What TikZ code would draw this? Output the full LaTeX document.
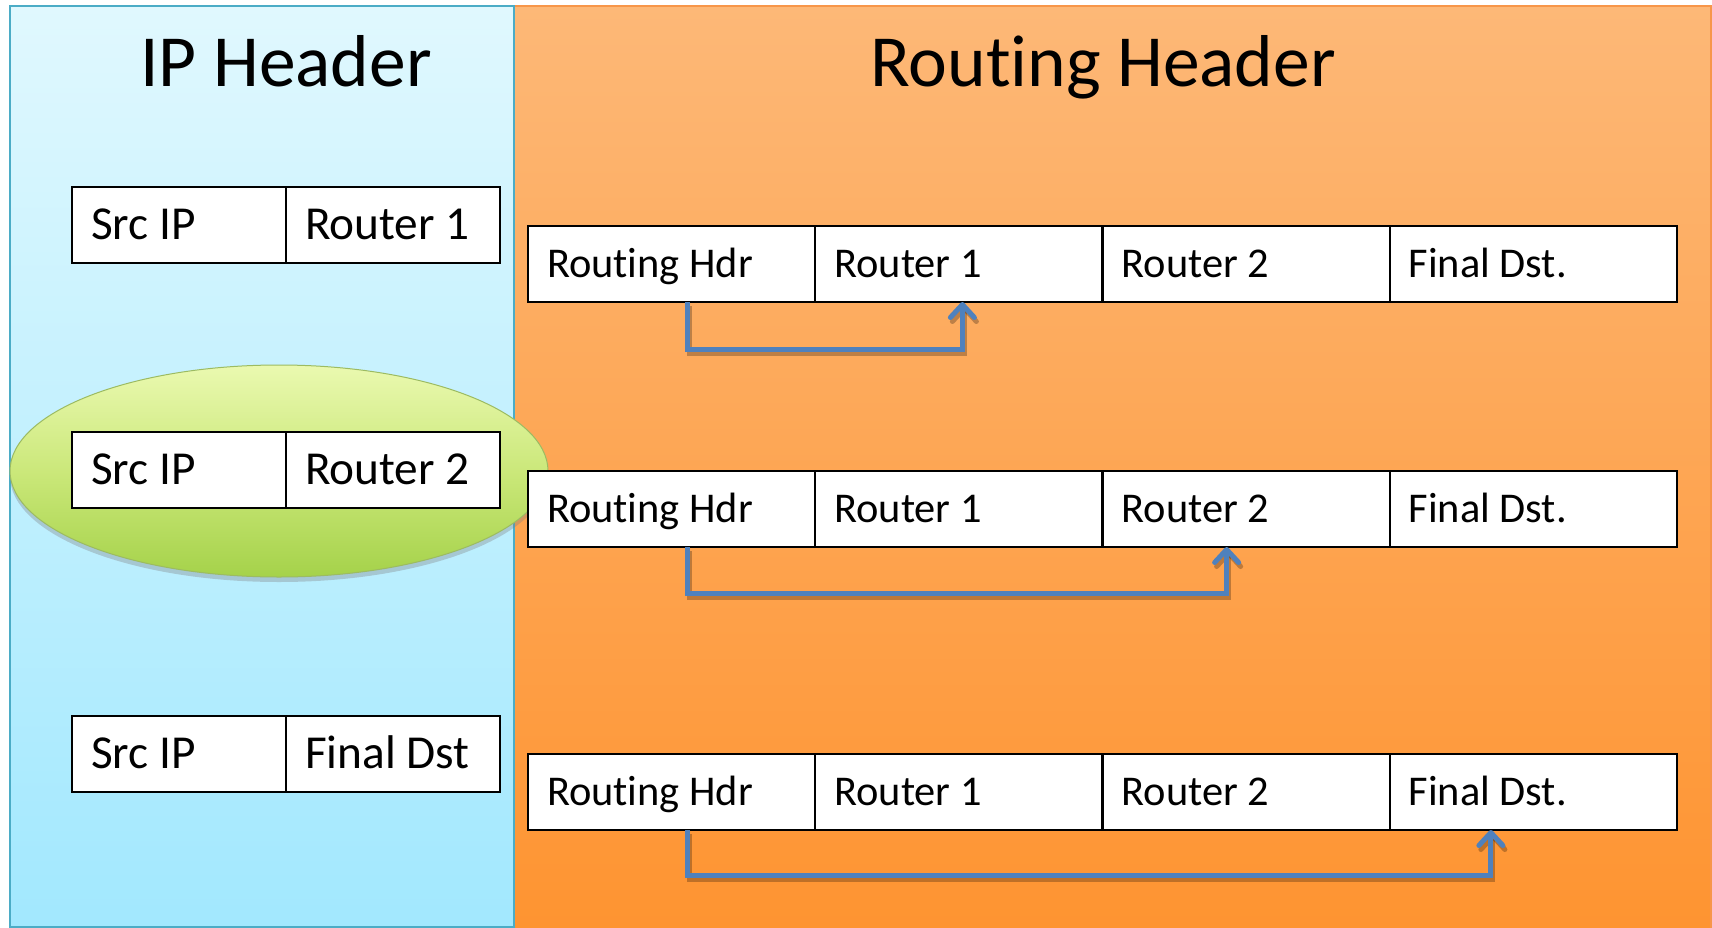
\documentclass[tikz,border=0pt]{standalone}
\usepackage{fontspec}
\setmainfont[Ligatures=NoCommon]{Carlito}
\usetikzlibrary{arrows.meta,shadows}

\definecolor{ipTop}{HTML}{E0F8FE}
\definecolor{ipBot}{HTML}{A2E8FE}
\definecolor{ipEdge}{HTML}{4BACC6}
\definecolor{rhTop}{HTML}{FDB877}
\definecolor{rhBot}{HTML}{FE9431}
\definecolor{rhEdge}{HTML}{F7964A}
\definecolor{ovTop}{HTML}{EAF9B0}
\definecolor{ovMid}{HTML}{CBE87A}
\definecolor{ovBot}{HTML}{A5D24A}
\definecolor{ovEdge}{HTML}{9CBB62}
\definecolor{hop}{HTML}{4F81BD}

\tikzset{
  cell/.style={draw=black, line width=2.4pt, fill=white, minimum height=76pt,
    inner xsep=19pt, inner ysep=0pt, outer sep=0pt, text depth=0pt,
    anchor=north west},
  ipcell/.style={cell, font=\fontsize{47.3}{56}\selectfont, text height=29.8pt,
    execute at begin node={\hbox to 176pt\bgroup}, execute at end node={\hfil\egroup}},
  rhcell/.style={cell, font=\fontsize{42.4}{50}\selectfont, text height=26.7pt,
    execute at begin node={\hbox to 249.25pt\bgroup}, execute at end node={\hfil\egroup}},
  title/.style={anchor=base, font=\fontsize{73.5}{88}\selectfont},
  link/.style={draw=hop, line width=5pt, line join=miter,
    -{Straight Barb[length=13pt, width=24pt, line cap=round, line join=round]}},
  linkshade/.style={draw=black, opacity=0.25, line width=5pt,
    transform canvas={shift={(2pt,-4pt)}},
    -{Straight Barb[length=13pt, width=24pt, line cap=round, line join=round]}},
}

\begin{document}
\begin{tikzpicture}[x=1pt, y=-1pt]
\useasboundingbox (0,0) rectangle (1712,928);
\fill[white] (0,0) rectangle (1712,928);

% panels
\shade[top color=rhTop, bottom color=rhBot] (514,6) rectangle (1711,928);
\draw[rhEdge, line width=1.5pt] (514,6) -- (1711,6) -- (1711,928);
\shade[top color=ipTop, bottom color=ipBot] (10,6) rectangle (514,927);
\draw[ipEdge, line width=2.5pt] (10,6) rectangle (514,927);

\node[title] (iphdr) at (286,87) {IP Header};
\node[title] (rthdr) at (1103,87) {Routing Header};

% highlighted current destination
\path[draw=ovEdge, line width=1pt, top color=ovTop, bottom color=ovBot, middle color=ovMid,
      drop shadow={opacity=0.35, shadow xshift=0pt, shadow yshift=-5pt}]
  (279,471) ellipse [x radius=269, y radius=106];

% IP header cells
\node[ipcell] (ip1a) at (72,187) {Src IP};
\node[ipcell] (ip1b) at (ip1a.north east) {Router 1};
\node[ipcell] (ip2a) at (72,432) {Src IP};
\node[ipcell] (ip2b) at (ip2a.north east) {Router 2};
\node[ipcell] (ip3a) at (72,716) {Src IP};
\node[ipcell] (ip3b) at (ip3a.north east) {Final Dst};

% routing header cells
\node[rhcell] (r1a) at (528,226) {Routing Hdr};
\node[rhcell] (r1b) at (r1a.north east) {Router 1};
\node[rhcell] (r1c) at (r1b.north east) {Router 2};
\node[rhcell] (r1d) at (r1c.north east) {Final Dst.};

\node[rhcell] (r2a) at (528,471) {Routing Hdr};
\node[rhcell] (r2b) at (r2a.north east) {Router 1};
\node[rhcell] (r2c) at (r2b.north east) {Router 2};
\node[rhcell] (r2d) at (r2c.north east) {Final Dst.};

\node[rhcell] (r3a) at (528,754) {Routing Hdr};
\node[rhcell] (r3b) at (r3a.north east) {Router 1};
\node[rhcell] (r3c) at (r3b.north east) {Router 2};
\node[rhcell] (r3d) at (r3c.north east) {Final Dst.};

% pointers to the next hop
\draw[linkshade] ([xshift=16pt]r1a.south) -- ++(0,47) -| ([xshift=3.5pt]r1b.south);
\draw[linkshade] ([xshift=16pt]r2a.south) -- ++(0,46) -| ([xshift=-19.5pt]r2c.south);
\draw[linkshade] ([xshift=16pt]r3a.south) -- ++(0,45) -| ([xshift=-42.5pt]r3d.south);

\draw[link] ([xshift=16pt]r1a.south) -- ++(0,47) -| ([xshift=3.5pt]r1b.south);
\draw[link] ([xshift=16pt]r2a.south) -- ++(0,46) -| ([xshift=-19.5pt]r2c.south);
\draw[link] ([xshift=16pt]r3a.south) -- ++(0,45) -| ([xshift=-42.5pt]r3d.south);
\end{tikzpicture}
\end{document}
